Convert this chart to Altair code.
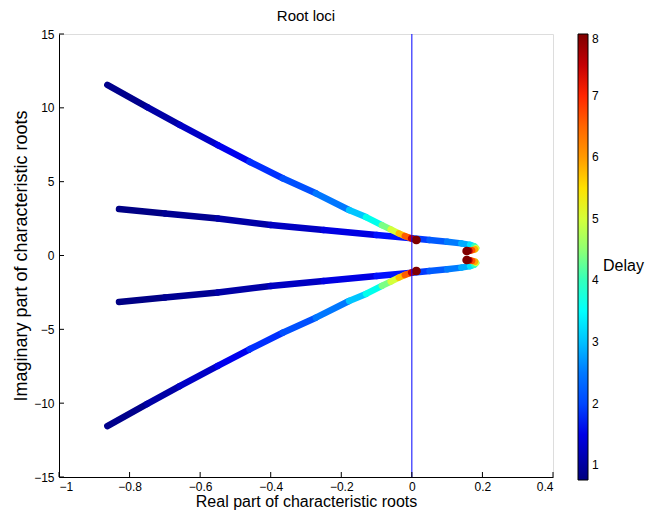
import altair as alt
import pandas as pd

# ---- data (upper half; lower half is the complex conjugate) ----
outer_re = [-0.863, -0.75, -0.658, -0.55, -0.46, -0.366, -0.272, -0.178, -0.13, -0.085, -0.06, -0.037, -0.02, -0.002, 0.012]
outer_im = [11.55, 10.05, 8.84, 7.48, 6.35, 5.23, 4.21, 3.08, 2.6, 2.06, 1.77, 1.5, 1.32, 1.16, 1.05]
outer_delay = [0.76, 0.95, 1.15, 1.4, 1.7, 1.95, 2.2, 2.75, 3.3, 4.0, 4.7, 5.3, 6.2, 7.0, 8.0]

inner_re = [-0.83, -0.7, -0.55, -0.4, -0.25, -0.1, 0.0, 0.05, 0.1, 0.14, 0.165, 0.177, 0.182, 0.179, 0.171, 0.163, 0.155]
inner_im = [3.15, 2.85, 2.5, 2.07, 1.73, 1.39, 1.17, 1.05, 0.93, 0.82, 0.72, 0.62, 0.5, 0.42, 0.36, 0.32, 0.30]
inner_delay = [0.76, 0.85, 0.95, 1.15, 1.35, 1.6, 1.8, 2.0, 2.35, 2.7, 3.0, 3.5, 4.5, 5.5, 6.3, 7.2, 8.0]

x_ticks = [-1, -0.8, -0.6, -0.4, -0.2, 0, 0.2, 0.4]
y_ticks = [-15, -10, -5, 0, 5, 10, 15]
cbar_ticks = [1, 2, 3, 4, 5, 6, 7, 8]
cbar_title = "Delay"

delay_min, delay_max = 0.76, 8.0
jet_colors = ["#00007F", "#0000FF", "#007FFF", "#00FFFF", "#7FFF7F",
              "#FFFF00", "#FF7F00", "#FF0000", "#7F0000"]
jet_domain = [delay_min + k * (delay_max - delay_min) / 8 for k in range(9)]

FONT = "Liberation Sans"


def segments(re, im, d, sign, name):
    rows = []
    n = len(re) - 1
    for k in range(n):
        rows.append(dict(branch=name, x=re[k], y=sign * im[k], x2=re[k + 1],
                         y2=sign * im[k + 1], delay=(d[k] + d[k + 1]) / 2, k=k))
    return rows


seg_rows = []
end_rows = []
for sign, tag in [(1, "upper"), (-1, "lower")]:
    seg_rows += segments(inner_re, inner_im, inner_delay, sign, "inner " + tag)
    seg_rows += segments(outer_re, outer_im, outer_delay, sign, "outer " + tag)
    for re, im, d in [(inner_re, inner_im, inner_delay), (outer_re, outer_im, outer_delay)]:
        end_rows.append(dict(x=re[-1], y=sign * im[-1], x2=re[-1], y2=sign * im[-1], delay=d[-1]))
seg_df = pd.DataFrame(seg_rows)
end_df = pd.DataFrame(end_rows)

xscale = alt.Scale(domain=[-1, 0.4], nice=False, zero=False)
yscale = alt.Scale(domain=[-15, 15], nice=False, zero=False)
cscale = alt.Scale(domain=jet_domain, range=jet_colors)

xaxis = alt.Axis(title="Real part of characteristic roots", values=x_ticks, format="~g",
                 grid=False, ticks=False, domainColor="black", labelColor="black",
                 labelFont=FONT, labelFontSize=12, labelPadding=4, titleFont=FONT,
                 titleFontSize=16, titleFontWeight="normal", titleColor="black", titlePadding=1)
yaxis = alt.Axis(title="Imaginary part of characteristic roots", values=y_ticks, format="~g",
                 grid=False, ticks=False, domainColor="black", labelColor="black",
                 labelFont=FONT, labelFontSize=12, labelPadding=5, titleFont=FONT,
                 titleFontSize=18, titleFontWeight="normal", titleColor="black", titlePadding=3)

legend = alt.Legend(type="gradient", orient="none", legendX=519, legendY=0, direction="vertical",
                    gradientLength=446, gradientThickness=10, gradientStrokeColor="black",
                    gradientStrokeWidth=1, values=cbar_ticks, labelFont=FONT, labelFontSize=12,
                    labelColor="black", labelOffset=4, labelOverlap=False,
                    title=None, padding=0)

segs = alt.Chart(seg_df).mark_rule(strokeWidth=6.5, strokeCap="round").encode(
    x=alt.X("x:Q", scale=xscale, axis=xaxis),
    y=alt.Y("y:Q", scale=yscale, axis=yaxis),
    x2="x2:Q",
    y2="y2:Q",
    color=alt.Color("delay:Q", scale=cscale, legend=legend),
    order="k:Q",
)

# end dots: near zero-length rules with round caps, a little thicker than the loci
ends = alt.Chart(end_df).mark_rule(strokeWidth=8.5, strokeCap="round", x2Offset=0.5).encode(
    x="x:Q", y="y:Q", x2="x2:Q", y2="y2:Q",
    color=alt.Color("delay:Q", scale=cscale, legend=legend),
)

zero_line = alt.Chart(pd.DataFrame({"x": [0]})).mark_rule(color="#0000FF", strokeWidth=1).encode(
    x="x:Q", y=alt.datum(-15), y2=alt.datum(15)
)

xt = alt.Chart(pd.DataFrame({"x": x_ticks})).mark_rule(color="black", strokeWidth=1, y2Offset=-5).encode(
    x="x:Q", y=alt.datum(-15), y2=alt.datum(-15)
)
yt = alt.Chart(pd.DataFrame({"y": y_ticks})).mark_rule(color="black", strokeWidth=1, x2Offset=5).encode(
    y="y:Q", x=alt.datum(-1), x2=alt.datum(-1)
)

delay_label = alt.Chart(pd.DataFrame({"t": [cbar_title]})).mark_text(
    font=FONT, fontSize=16, color="black", align="left", baseline="middle", dx=50, dy=10
).encode(x=alt.datum(0.4), y=alt.datum(0), text="t:N")

chart = alt.layer(segs, ends, zero_line, xt, yt, delay_label).properties(
    width=494, height=443,
    title=alt.TitleParams("Root loci", font=FONT, fontSize=15, fontWeight="normal",
                          color="black", offset=4, frame="group"),
    autosize=alt.AutoSizeParams(type="none"),
    padding={"left": 51, "top": 26, "right": 92, "bottom": 34},
).configure_view(stroke=None).configure(background="white")

chart.save("out.html", embed_options={"renderer": "svg", "actions": False})
